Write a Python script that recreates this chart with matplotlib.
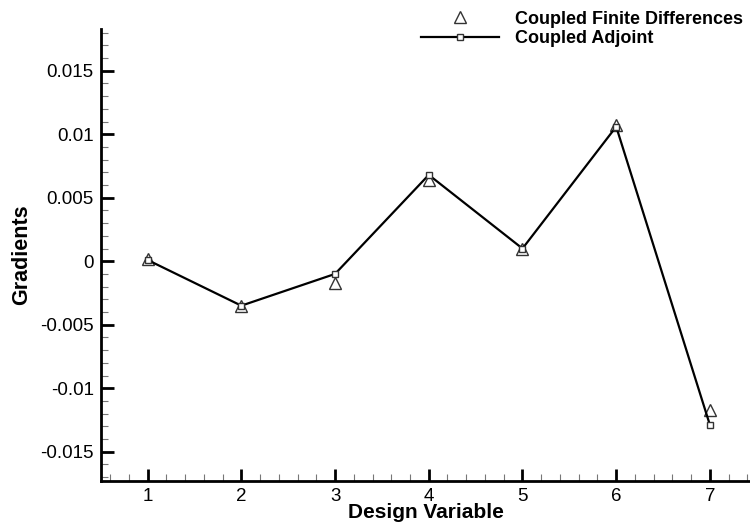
import matplotlib.pyplot as plt
from matplotlib.ticker import MultipleLocator, FuncFormatter

plt.rcParams['font.family'] = ['Liberation Sans', 'DejaVu Sans']

design_var = [1, 2, 3, 4, 5, 6, 7]
finite_diff = [0.0002, -0.0035, -0.0017, 0.0064, 0.0010, 0.0107, -0.0117]
adjoint = [0.0001, -0.0035, -0.0010, 0.0068, 0.0010, 0.0106, -0.0129]

fig = plt.figure(figsize=(7.5, 5.25), dpi=100)
ax = fig.add_axes([0.1343, 0.084, 0.866, 0.861])

ax.plot(design_var, finite_diff, linestyle='none', marker='^', markersize=8,
        markerfacecolor='white', markeredgecolor='#333333', markeredgewidth=1.0,
        label='Coupled Finite Differences')
ax.plot(design_var, adjoint, color='black', linewidth=1.6, marker='s', markersize=5,
        markerfacecolor='white', markeredgecolor='#333333', markeredgewidth=1.0,
        label='Coupled Adjoint')

ax.set_xlim(0.5, 7.43)
ax.set_ylim(-0.0173, 0.0183)

ax.xaxis.set_major_locator(MultipleLocator(1))
ax.xaxis.set_minor_locator(MultipleLocator(0.2))
ax.yaxis.set_major_locator(MultipleLocator(0.005))
ax.yaxis.set_minor_locator(MultipleLocator(0.001))

def fmt(v, pos):
    if abs(v) < 1e-12:
        return '0'
    return ('%.3f' % v).rstrip('0')

ax.yaxis.set_major_formatter(FuncFormatter(fmt))

for s in ['top', 'right']:
    ax.spines[s].set_visible(False)
for s in ['left', 'bottom']:
    ax.spines[s].set_linewidth(2.0)

ax.tick_params(which='major', direction='in', length=9, width=2.0, labelsize=13.5, pad=5)
ax.tick_params(which='minor', direction='in', length=5, width=0.8, color='#777777')

ax.set_xlabel('Design Variable', fontsize=15, fontweight='bold', labelpad=-1)
ax.set_ylabel('Gradients', fontsize=15.5, fontweight='bold', labelpad=6)

leg = ax.legend(loc='upper left', bbox_to_anchor=(0.468, 1.076), frameon=False,
                prop={'weight': 'bold', 'size': 13}, handlelength=4.3,
                handletextpad=0.9, labelspacing=0.12)

fig.savefig('out.png', dpi=100)
